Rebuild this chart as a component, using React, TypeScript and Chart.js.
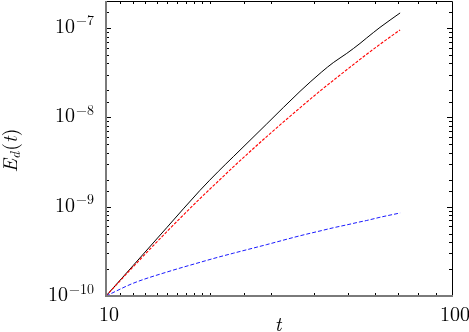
import React, { useEffect, useRef } from "react";
import { Chart, registerables } from "chart.js";

Chart.register(...registerables);

// ---- data ----
const times = [10, 11.99, 14.97, 18.69, 21.12, 23.33, 29.14, 36.37, 42.03, 45.39, 49.63, 54.21, 56.68, 61.92, 70.8];
const blackSeries = [1e-10, 2.2e-10, 5.8e-10, 1.52e-9, 2.48e-9, 3.62e-9, 8.42e-9, 1.95e-8, 3.22e-8, 4.09e-8, 5.18e-8, 6.7e-8, 7.72e-8, 1.013e-7, 1.47e-7];
const redSeries = [1e-10, 2.13e-10, 5.22e-10, 1.23e-9, 1.93e-9, 2.78e-9, 6.08e-9, 1.276e-8, 2.04e-8, 2.585e-8, 3.4e-8, 4.44e-8, 5.07e-8, 6.55e-8, 9.5e-8];
const blueSeries = [1e-10, 1.39e-10, 1.85e-10, 2.38e-10, 2.72e-10, 3.01e-10, 3.76e-10, 4.72e-10, 5.4e-10, 5.8e-10, 6.25e-10, 6.75e-10, 7.0e-10, 7.6e-10, 8.49e-10];

const xMin = 10;
const xMax = 100;
const yMin = 1e-10;
const yMax = 2e-7;

const xTitle = "t";
const yTitleMain = "E";
const yTitleSub = "d";
const yTitleArg = "t";

const SERIF = '"Latin Modern Roman", "Liberation Serif", "DejaVu Serif", serif';

function isDecade(v: number) {
  const l = Math.log10(v);
  return Math.abs(l - Math.round(l)) < 1e-6;
}

const framePlugin = {
  id: "frameAndLabels",
  afterDraw(chart: any) {
    const { ctx, chartArea: a, scales } = chart;
    const xs = scales.x;
    const ys = scales.y;
    ctx.save();

    // inward ticks
    ctx.strokeStyle = "#000";
    ctx.lineWidth = 1;
    ctx.beginPath();
    for (const t of xs.ticks) {
      const v = t.value;
      if (v <= xMin * 1.0001 || v >= xMax * 0.9999) continue;
      const px = Math.round(xs.getPixelForValue(v)) + 0.5;
      const len = isDecade(v) ? 6 : 3;
      ctx.moveTo(px, a.bottom);
      ctx.lineTo(px, a.bottom - len);
      ctx.moveTo(px, a.top);
      ctx.lineTo(px, a.top + len);
    }
    for (const t of ys.ticks) {
      const v = t.value;
      if (v <= yMin * 1.0001 || v >= yMax * 0.9999) continue;
      const py = Math.round(ys.getPixelForValue(v)) + 0.5;
      const len = isDecade(v) ? 5 : 3;
      ctx.moveTo(a.left, py);
      ctx.lineTo(a.left + len, py);
      ctx.moveTo(a.right, py);
      ctx.lineTo(a.right - len, py);
    }
    ctx.stroke();

    // frame: top/right black, left/bottom grey
    ctx.beginPath();
    ctx.strokeStyle = "#000";
    ctx.lineWidth = 1;
    ctx.moveTo(a.left, a.top + 0.5);
    ctx.lineTo(a.right + 0.5, a.top + 0.5);
    ctx.lineTo(a.right + 0.5, a.bottom);
    ctx.stroke();
    ctx.beginPath();
    ctx.strokeStyle = "#7a7a7a";
    ctx.lineWidth = 2;
    ctx.moveTo(a.left, a.top);
    ctx.lineTo(a.left, a.bottom);
    ctx.lineTo(a.right + 1, a.bottom);
    ctx.stroke();

    // tick labels (decades only), 10 with superscript exponent
    ctx.fillStyle = "#000";
    ctx.textBaseline = "alphabetic";
    const baseFont = `20px ${SERIF}`;
    const supFont = `14px ${SERIF}`;
    for (const t of ys.ticks) {
      const v = t.value;
      if (!isDecade(v)) continue;
      const py = ys.getPixelForValue(v);
      const exp = Math.round(Math.log10(v));
      const supText = (exp < 0 ? "\u2212" : "") + Math.abs(exp);
      ctx.font = supFont;
      const wSup = ctx.measureText(supText).width;
      ctx.font = baseFont;
      const wBase = ctx.measureText("10").width;
      const right = a.left - 12;
      ctx.textAlign = "left";
      ctx.font = baseFont;
      ctx.fillText("10", right - wSup - wBase - 1, py + 5);
      ctx.font = supFont;
      ctx.fillText(supText, right - wSup, py - 2.5);
    }
    for (const t of xs.ticks) {
      const v = t.value;
      if (!isDecade(v)) continue;
      const px = xs.getPixelForValue(v);
      ctx.font = baseFont;
      ctx.textAlign = "center";
      ctx.fillText(String(Math.round(v)), px + 3, a.bottom + 25);
    }

    // x title
    ctx.font = `italic 20px ${SERIF}`;
    ctx.textAlign = "center";
    ctx.fillText(xTitle, (a.left + a.right) / 2 - 1, 331);

    // y title E_d(t), rotated
    ctx.translate(17, (a.top + a.bottom) / 2 + 2);
    ctx.rotate(-Math.PI / 2);
    const parts: [string, string, number][] = [
      [yTitleMain, `italic 20px ${SERIF}`, 0],
      [yTitleSub, `italic 14px ${SERIF}`, 3],
      ["(", `20px ${SERIF}`, 0],
      [yTitleArg, `italic 20px ${SERIF}`, 0],
      [")", `20px ${SERIF}`, 0],
    ];
    let total = 0;
    for (const [s, f] of parts) {
      ctx.font = f;
      total += ctx.measureText(s).width;
    }
    total += 1;
    let x = -total / 2;
    ctx.textAlign = "left";
    for (const [s, f, dy] of parts) {
      ctx.font = f;
      ctx.fillText(s, x, dy);
      x += ctx.measureText(s).width;
      if (s === yTitleSub) x += 1;
    }
    ctx.restore();
  },
};

export default function App() {
  const ref = useRef<HTMLCanvasElement | null>(null);
  useEffect(() => {
    document.body.style.margin = "0";
    const canvas = ref.current;
    if (!canvas) return;
    const mk = (ys: number[]) => times.map((t, i) => ({ x: t, y: ys[i] }));
    const chart = new Chart(canvas, {
      type: "line",
      data: {
        datasets: [
          {
            data: mk(blueSeries),
            borderColor: "#1a1aff",
            borderWidth: 1,
            borderDash: [4, 2],
            pointRadius: 0,
            cubicInterpolationMode: "monotone",
          },
          {
            data: mk(redSeries),
            borderColor: "#ff0000",
            borderWidth: 1.1,
            borderDash: [3, 1.5],
            pointRadius: 0,
            cubicInterpolationMode: "monotone",
          },
          {
            data: mk(blackSeries),
            borderColor: "#000000",
            borderWidth: 1,
            pointRadius: 0,
            cubicInterpolationMode: "monotone",
          },
        ],
      },
      options: {
        animation: false,
        responsive: false,
        devicePixelRatio: 1,
        layout: { padding: { top: 1, right: 17, left: 0, bottom: 0 } },
        plugins: { legend: { display: false }, tooltip: { enabled: false } },
        scales: {
          x: {
            type: "logarithmic",
            min: xMin,
            max: xMax,
            grid: { display: false },
            border: { display: false },
            ticks: { display: false },
            afterFit: (s: any) => {
              s.height = 36;
            },
          },
          y: {
            type: "logarithmic",
            min: yMin,
            max: yMax,
            grid: { display: false },
            border: { display: false },
            ticks: { display: false },
            afterFit: (s: any) => {
              s.width = 106;
            },
          },
        },
      },
      plugins: [framePlugin],
    } as any);
    return () => chart.destroy();
  }, []);
  return (
    <div style={{ position: "fixed", left: 0, top: 0, width: 469, height: 332, background: "#fff" }}>
      <canvas ref={ref} width={469} height={332} />
    </div>
  );
}
